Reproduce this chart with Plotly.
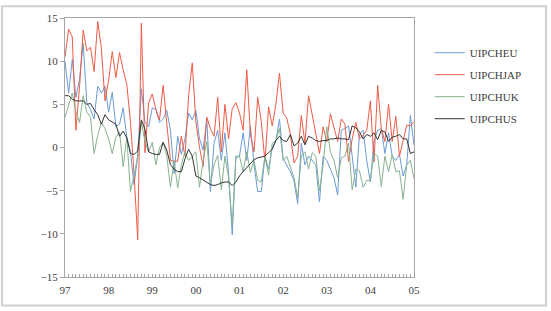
import plotly.graph_objects as go

# Monthly observations 1997M01 .. 2005M01 (97 points)
uipcheu = (
    [10.0, 6.3, 10.2, 5.8, 7.9, 12.1, 5.2, 4.4, 3.3, 7.1, 6.3, 7.1] +      # 1997
    [4.1, 6.4, 2.4, 2.7, 4.6, 1.2, -0.5, -4.3, -1.0, 6.8, 3.0, 2.4] +      # 1998
    [4.6, 4.4, 2.9, 3.3, 4.3, 2.0, -3.0, 1.3, -0.8, 1.0, 4.0, 3.2] +       # 1999
    [4.3, 1.0, -0.3, 3.3, -5.1, 0.5, 2.0, -1.5, 1.7, -3.0, -10.1, -1.2] +  # 2000
    [-1.0, 1.7, -1.5, 2.5, -2.0, -5.1, -5.1, -1.0, -2.5, 0.0, 0.8, 3.3] +  # 2001
    [-1.3, -2.0, -2.8, -3.9, -6.5, 0.5, -2.0, -1.0, -1.5, -2.0, -6.3, -1.0] +  # 2002
    [-1.5, -2.5, -3.5, -5.5, 2.0, 2.2, 2.5, -1.0, -4.6, 1.5, 2.0, -1.5] +  # 2003
    [-4.0, 0.8, 2.0, 2.2, -0.7, 1.7, -1.0, -1.5, -0.8, -3.3, -2.0, 3.7] +  # 2004
    [0.3]                                                                   # 2005M01
)
uipchjap = (
    [10.5, 13.7, 12.8, 2.0, 7.0, 13.6, 11.2, 11.6, 8.8, 14.6, 11.5, 5.4] +
    [7.8, 11.1, 8.1, 11.0, 9.0, 7.3, 3.0, -3.0, -10.7, 14.4, -0.6, 5.2] +
    [6.2, 4.4, 3.2, 7.2, 2.8, -1.5, -1.6, -1.6, 1.3, -1.0, 6.0, 9.8] +
    [3.0, 0.0, -2.2, 3.5, 2.2, 1.3, 5.8, -0.5, 5.0, 1.0, 4.5, 5.2] +
    [4.0, 2.0, 9.0, 1.5, -0.5, 5.8, 3.0, -1.7, 4.7, 2.5, 5.0, 8.6] +
    [4.0, 3.4, 1.5, -1.8, -1.0, 3.7, 0.5, 6.0, 3.8, 1.5, -0.7, 2.4] +
    [0.7, 3.9, 2.2, 0.7, 3.3, 2.7, -1.6, 1.0, 2.9, 1.0, 1.4, 2.0] +
    [5.4, -1.7, 7.2, 2.2, 0.7, 5.0, 0.7, 3.6, -1.0, 0.8, 2.6, 2.5] +
    [3.0]
)
uipchuk = (
    [3.5, 4.8, 6.3, 4.1, 2.9, 6.0, 4.1, 3.5, -0.7, 1.4, 2.9, 2.2] +
    [1.0, -0.7, 1.2, 1.8, -2.2, 1.2, -5.1, -3.2, -1.0, 2.9, 0.7, -0.5] +
    [0.6, -2.0, 0.0, 0.6, -1.0, -4.6, -1.5, -4.7, -2.0, -0.5, -1.5, -1.0] +
    [-0.5, -4.6, -1.5, 0.7, -4.3, -2.0, -0.9, -4.9, -1.0, -3.5, -9.0, -1.0] +
    [-1.0, -2.8, -0.5, -2.9, -1.5, -3.8, -4.0, -1.0, -3.2, 0.5, 0.8, 2.2] +
    [-1.5, -1.0, -2.4, -3.5, -5.8, -1.0, -0.5, -2.5, -0.6, -1.0, -5.0, -2.0] +
    [2.4, -0.5, -1.5, -3.5, -1.2, -1.0, 0.5, -4.9, -2.5, -2.7, -4.6, -3.8] +
    [-3.8, -0.7, -1.0, -4.5, -1.0, -2.8, -0.8, -2.8, -2.7, -6.0, -2.0, -1.5] +
    [-3.6]
)
uipchus = (
    [6.0, 6.0, 5.6, 5.4, 5.4, 5.4, 5.0, 5.1, 4.4, 3.8, 2.7, 3.8] +
    [3.2, 2.9, 2.7, 1.3, 1.9, 1.1, -0.7, -0.8, -0.4, 3.2, 2.1, -0.5] +
    [-0.7, -0.8, -0.8, 0.6, -0.3, -2.0, -2.5, -2.8, -2.8, -1.3, -0.2, -1.0] +
    [-3.3, -3.5, -3.8, -4.0, -4.3, -4.4, -4.3, -4.1, -4.0, -4.0, -4.4, -4.0] +
    [-3.3, -2.8, -2.3, -1.8, -1.4, -1.2, -1.1, -1.0, -0.6, -0.2, 0.8, 1.3] +
    [0.8, 0.7, 1.5, 0.2, 0.5, 1.3, 0.3, 1.3, 1.1, 0.8, 0.7, 0.8] +
    [0.8, 1.0, 1.0, 1.1, 1.0, 1.0, 0.9, 2.5, 2.3, 1.8, 1.0, 1.5] +
    [1.3, 1.7, 0.9, 2.0, 1.8, 0.7, 1.2, 1.3, 1.5, 1.0, 1.0, -0.7] +
    [-0.5]
)
obs = list(range(len(uipchus)))
year_labels = ["97", "98", "99", "00", "01", "02", "03", "04", "05"]
year_pos = [12 * i for i in range(len(year_labels))]

series = [
    ("UIPCHEU", uipcheu, "#6c9bd6"),
    ("UIPCHJAP", uipchjap, "#ee5b45"),
    ("UIPCHUK", uipchuk, "#86b28f"),
    ("UIPCHUS", uipchus, "#333333"),
]

fig = go.Figure()
for name, vals, col in series:
    fig.add_trace(go.Scatter(x=obs, y=vals, mode="lines", name=name,
                             legendgroup=name,
                             line=dict(color=col, width=1)))

font = "Liberation Serif, Times New Roman, serif"
axis_col = "#a6a6a6"
fig.update_layout(
    width=551, height=311,
    margin=dict(l=65, r=137, t=14, b=34),
    paper_bgcolor="white", plot_bgcolor="white",
    font=dict(family=font, size=11, color="#404040"),
    showlegend=True,
    legend=dict(x=1.045, y=0.922, xanchor="left", yanchor="top",
                font=dict(family=font, size=11, color="#404040"),
                tracegroupgap=3, bgcolor="rgba(0,0,0,0)"),
    xaxis=dict(range=[0, 96], tickvals=year_pos, ticktext=year_labels,
               ticks="inside", ticklen=3, tickcolor=axis_col,
               showline=True, linecolor=axis_col, linewidth=1, mirror=True,
               showgrid=False, zeroline=False, ticklabelstandoff=3,
               minor=dict(dtick=1, ticks="inside", ticklen=3, tickcolor=axis_col),
               tickfont=dict(size=11)),
    yaxis=dict(range=[-15, 15], dtick=5, ticks="outside", ticklen=4,
               tickcolor=axis_col, showline=True, linecolor=axis_col,
               linewidth=1, mirror=True, showgrid=False, zeroline=False,
               tickfont=dict(size=11)),
)
# outer frame around the whole picture
fig.add_shape(type="rect", xref="paper", yref="paper",
              x0=(2 - 65) / 349, x1=(546 - 65) / 349,
              y0=(277 - 306) / 263, y1=(277 - 2) / 263,
              line=dict(color="#cfcfcf", width=2), layer="below")

fig.write_html("out.html")
